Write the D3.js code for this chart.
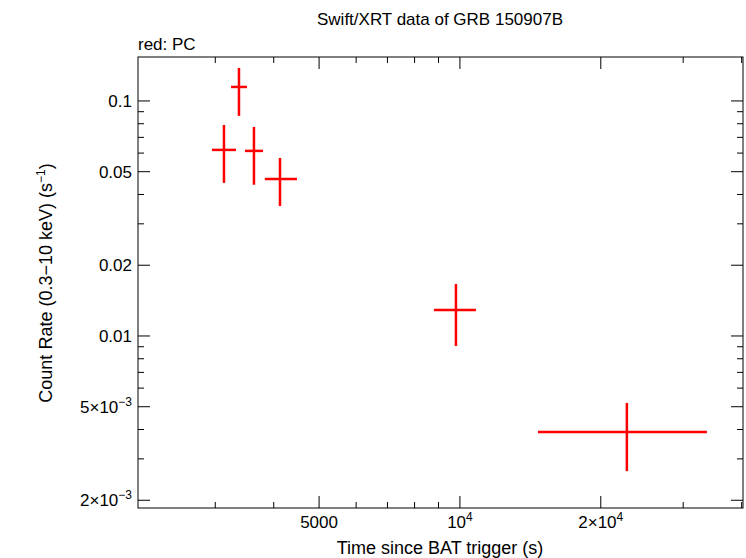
<!DOCTYPE html><html><head><meta charset="utf-8"><script src="https://cdn.jsdelivr.net/npm/d3@7"></script>
<style>body{margin:0;background:#fff}text{font-family:"Liberation Sans",Arial,sans-serif;fill:#000}</style></head><body>
<svg id="c" width="746" height="558"></svg>
<script>
const tMid=[3131,3371,3629,4125,9806,22740];
const tLo=[2951,3241,3472,3828,8799,14680];
const tHi=[3322,3506,3794,4484,10819,33720];
const rate=[0.0619,0.1147,0.0613,0.0466,0.0129,0.00390];
const rLo=[0.0448,0.0864,0.0440,0.0357,0.00907,0.00266];
const rHi=[0.0790,0.1382,0.0775,0.0572,0.01665,0.00519];
const xTicks=[5000,10000,20000];
const yTicks=[0.1,0.05,0.02,0.01,0.005,0.002];
const svg=d3.select("#c");
const L=138,R=743,T=57,B=508;
const x=d3.scaleLog().domain([2051,40270]).range([L,R]);
const y=d3.scaleLog().domain([0.001854,0.1538]).range([B,T]);
svg.append("rect").attr("x",L).attr("y",T).attr("width",R-L).attr("height",B-T).attr("fill","none").attr("stroke","#000");
const g=svg.append("g");
const xMinor=[];for(let d=1000;d<=10000;d*=10)for(let k=1;k<10;k++){const v=k*d;if(v>2051&&v<40270)xMinor.push(v);}
xMinor.forEach(v=>{const big=xTicks.includes(v);const l=big?12:6;
 g.append("line").attr("x1",x(v)).attr("x2",x(v)).attr("y1",B).attr("y2",B-l).attr("stroke","#000");
 g.append("line").attr("x1",x(v)).attr("x2",x(v)).attr("y1",T).attr("y2",T+l).attr("stroke","#000");});
xTicks.forEach(v=>{const t=g.append("text").attr("x",x(v)).attr("y",528).attr("text-anchor","middle").attr("font-size",17);
 if(v===5000)t.text("5000");else if(v===10000){t.text("10");t.append("tspan").attr("dy",-7).attr("font-size",12).text("4");}
 else{t.text("2×10");t.append("tspan").attr("dy",-7).attr("font-size",12).text("4");}});
const yMinor=[];for(let d=0.001;d<=0.1;d*=10)for(let k=1;k<10;k++){const v=k*d;if(v>0.001854&&v<0.1538)yMinor.push(v);}
yMinor.forEach(v=>{const big=yTicks.some(t=>Math.abs(t-v)/v<1e-6);const l=big?12:6;
 g.append("line").attr("y1",y(v)).attr("y2",y(v)).attr("x1",L).attr("x2",L+l).attr("stroke","#000");
 g.append("line").attr("y1",y(v)).attr("y2",y(v)).attr("x1",R).attr("x2",R-l).attr("stroke","#000");});
yTicks.forEach(v=>{const t=g.append("text").attr("x",L-6).attr("y",y(v)+6).attr("text-anchor","end").attr("font-size",17);
 if(v>=0.01)t.text(String(v));else{t.text((v*1000)+"×10");t.append("tspan").attr("dy",-7).attr("font-size",12).text("−3");}});
const dg=svg.append("g").attr("stroke","red").attr("stroke-width",2.5);
tMid.forEach((t,i)=>{
 dg.append("line").attr("x1",x(tLo[i])).attr("x2",x(tHi[i])).attr("y1",y(rate[i])).attr("y2",y(rate[i]));
 dg.append("line").attr("x1",x(t)).attr("x2",x(t)).attr("y1",y(rLo[i])).attr("y2",y(rHi[i]));});
svg.append("text").attr("x",440).attr("y",25).attr("text-anchor","middle").attr("font-size",17).text("Swift/XRT data of GRB 150907B");
svg.append("text").attr("x",138).attr("y",50).attr("font-size",17).text("red: PC");
svg.append("text").attr("x",440).attr("y",554).attr("text-anchor","middle").attr("font-size",18).text("Time since BAT trigger (s)");
const yl=svg.append("text").attr("transform","translate(52,283) rotate(-90)").attr("text-anchor","middle").attr("font-size",18);
yl.text("Count Rate (0.3−10 keV) (s");yl.append("tspan").attr("dy",-7).attr("font-size",12).text("−1");yl.append("tspan").attr("dy",7).text(")");
</script></body></html>
